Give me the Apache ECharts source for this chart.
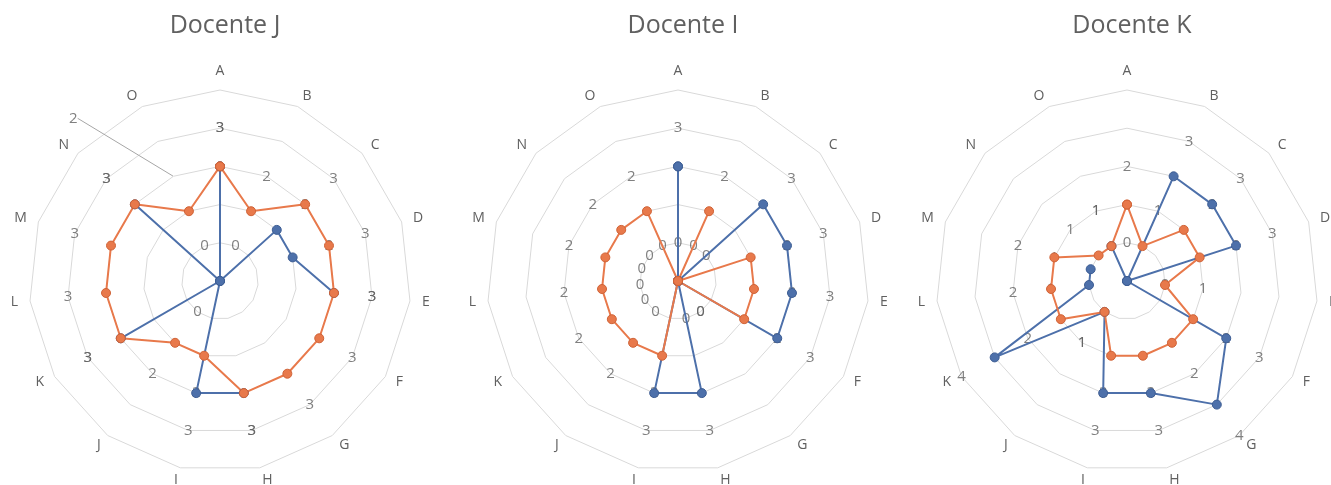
<!DOCTYPE html>
<html>
<head>
<meta charset="utf-8">
<script src="https://cdn.jsdelivr.net/npm/echarts@6/dist/echarts.min.js"></script>
<style>
  html, body { margin: 0; padding: 0; background: #fff; }
  #main { width: 1331px; height: 485px; }
</style>
</head>
<body>
<div id="main"></div>
<script>
var categories = ['A', 'B', 'C', 'D', 'E', 'F', 'G', 'H', 'I', 'J', 'K', 'L', 'M', 'N', 'O'];
var titles = ['Docente J', 'Docente I', 'Docente K'];

// null = empty cell (no point, line broken)
var docenteJ_blue   = [3, 0, 2, 2, 3, null, null, 3, 3, 0, 3, null, null, 3, 0];
var docenteJ_orange = [3, 2, 3, 3, 3, 3, 3, 3, 2, 2, 3, 3, 3, 3, 2];
var docenteI_blue   = [3, 0, 3, 3, 3, 3, 0, 3, 3, 0, 0, 0, 0, 0, 0];
var docenteI_orange = [0, 2, 0, 2, 2, 2, 0, 0, 2, 2, 2, 2, 2, 2, 2];
var docenteK_blue   = [0, 3, 3, 3, 0, 3, 4, 3, 3, 1, 4, 1, 1, null, 1];
var docenteK_orange = [2, 1, 2, 2, 1, 2, 2, 2, 2, 1, 2, 2, 2, 1, 1];

var axisMax = 5;

var charts = [
    { blue: docenteJ_blue, orange: docenteJ_orange, cx: 220 },
    { blue: docenteI_blue, orange: docenteI_orange, cx: 678 },
    { blue: docenteK_blue, orange: docenteK_orange, cx: 1127 }
];

var BLUE = '#4d70aa';
var ORANGE = '#e8794b';
var TEXT = '#606060';
var FONT = '"Open Sans", "Noto Sans", sans-serif';
var CY = 281, R = 191;

// radar draws counter-clockwise, so feed names reversed to get A,B,C... clockwise
var radarIndicators = [categories[0]].concat(categories.slice(1).reverse()).map(function (c) {
    return { name: c, min: 0, max: axisMax };
});

function lineData(vals) {
    var d = vals.map(function (v, i) { return [v == null ? '-' : v, i]; });
    d.push([vals[0] == null ? '-' : vals[0], vals.length]); // close the loop
    return d;
}

// labels sit one ring outside their point, like Excel did
function labelData(vals, leaderIdx) {
    var d = [];
    vals.forEach(function (v, i) {
        if (v == null) return;
        var item = { value: [v + 1, i], name: String(v) };
        if (i === leaderIdx) item.labelLine = { show: true, lineStyle: { color: '#a6a6a6', width: 1 } };
        d.push(item);
    });
    return d;
}

var option = {
    animation: false,
    title: [],
    radar: [],
    polar: [],
    angleAxis: [],
    radiusAxis: [],
    series: []
};

charts.forEach(function (c, k) {
    option.title.push({
        text: titles[k], left: c.cx, top: 8, textAlign: 'center',
        textStyle: { color: TEXT, fontSize: 25, fontWeight: 'normal', fontFamily: FONT }
    });
    option.radar.push({
        center: [c.cx, CY], radius: R, startAngle: 90, splitNumber: 5, shape: 'polygon',
        indicator: radarIndicators,
        axisName: { color: TEXT, fontSize: 14, fontFamily: FONT },
        axisNameGap: 12, nameGap: 12,
        axisLine: { show: false },
        axisTick: { show: false },
        axisLabel: { show: false },
        splitArea: { show: false },
        splitLine: { lineStyle: { color: '#d9d9d9', width: 1 } }
    });
    option.polar.push({ center: [c.cx, CY], radius: R });
    option.angleAxis.push({ polarIndex: k, type: 'value', min: 0, max: categories.length, startAngle: 90, clockwise: true, show: false });
    option.radiusAxis.push({ polarIndex: k, type: 'value', min: 0, max: axisMax, show: false });

    var pairs = [['blue', c.blue, BLUE, '#3d5d93'], ['orange', c.orange, ORANGE, '#cf6236']];
    pairs.forEach(function (s) {
        var lead = (k === 0 && s[0] === 'orange') ? 14 : -1;
        var lbl = {
            type: 'scatter', coordinateSystem: 'polar', polarIndex: k, z: 1, silent: true,
            symbolSize: 1, itemStyle: { color: 'rgba(0,0,0,0)' },
            data: labelData(s[1], lead),
            label: { show: true, position: 'inside', formatter: '{b}', color: TEXT, fontSize: 15, fontFamily: FONT }
        };
        if (lead >= 0) {
            // the O label was dragged out with a leader line
            lbl.labelLayout = function (p) {
                if (p.dataIndex === lead) return { dx: -100, dy: -58 };
            };
        }
        option.series.push(lbl);
    });
    pairs.forEach(function (s) {
        option.series.push({
            name: s[0], type: 'line', coordinateSystem: 'polar', polarIndex: k, zlevel: 1, z: 3,
            data: lineData(s[1]),
            symbol: 'circle', symbolSize: 9,
            lineStyle: { color: s[2], width: 2 },
            itemStyle: { color: s[2], borderColor: s[3], borderWidth: 1 }
        });
    });
});

var chart = echarts.init(document.getElementById('main'));
chart.setOption(option);
</script>
</body>
</html>
